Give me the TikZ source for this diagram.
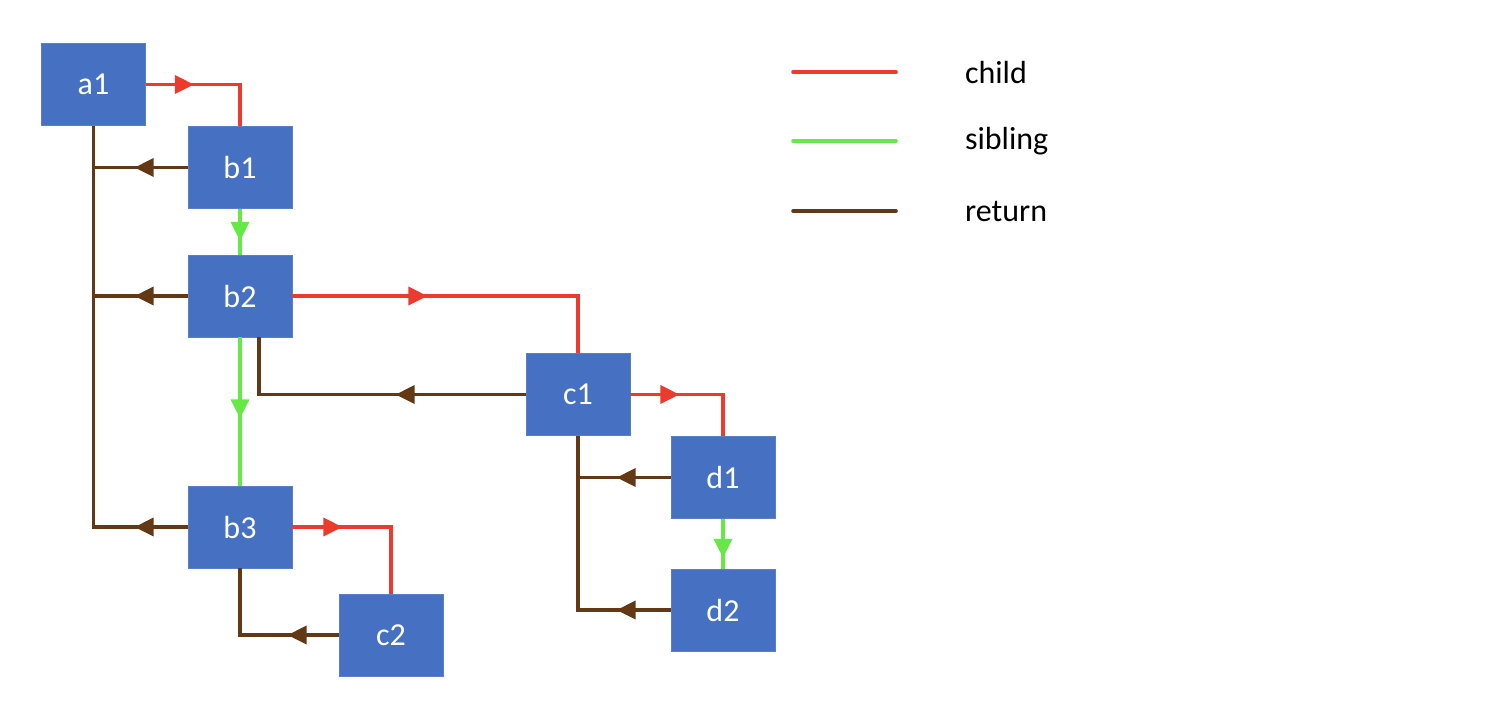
\documentclass[tikz,border=0pt]{standalone}
\usepackage{fontspec}
\setmainfont{Carlito}
\usepackage{xcolor}
\usetikzlibrary{arrows.meta}
\usetikzlibrary{decorations.markings}

\definecolor{boxblue}{RGB}{70,113,194}
\definecolor{childred}{RGB}{236,58,44}
\definecolor{sibgreen}{RGB}{102,232,70}
\definecolor{retbrown}{RGB}{99,57,21}

\tikzset{
    box/.style={fill=boxblue, draw=boxblue!90!white, line width=0.4pt,
        minimum width=52pt, minimum height=41pt, inner sep=0pt,
        text=white, font=\fontsize{16}{18}\selectfont},
    tipat/.style={postaction={decorate}, decoration={markings,
        mark=at position #1 with {\arrow{Triangle[length=9.5pt,width=9pt]}}}},
    child/.style={childred, line width=1.8pt},
    sibling/.style={sibgreen, line width=1.8pt},
    back/.style={retbrown, line width=1.8pt},
    legtext/.style={anchor=west, font=\fontsize{16}{18}\selectfont}
}

\begin{document}
\begin{tikzpicture}[x=0.5pt, y=-0.5pt]
    \useasboundingbox (0,0) rectangle (1508,720);

    % body
    \node[box] (a1) at (93.5,84.5) {a1};
    \node[box] (b1) at (240,167.5) {b1};
    \node[box] (b2) at (240,296) {b2};
    \node[box] (b3) at (240,527) {b3};
    \node[box] (c1) at (578,394.5) {c1};
    \node[box] (c2) at (391,635) {c2};
    \node[box] (d1) at (723,477.5) {d1};
    \node[box] (d2) at (723,610) {d2};

    % child links
    \draw[child, tipat=24pt] (a1.east) -| (b1.north);
    \draw[child, tipat=67.5pt] (b2.east) -| (c1.north);
    \draw[child, tipat=24.5pt] (c1.east) -| (d1.north);
    \draw[child, tipat=25pt] (b3.east) -| (c2.north);

    % sibling links
    \draw[sibling, tipat=16pt] (b1.south) -- (b2.north);
    \draw[sibling, tipat=40.5pt] (b2.south) -- (b3.north);
    \draw[sibling, tipat=19.5pt] (d1.south) -- (d2.north);

    % return links
    \draw[back, tipat=26.5pt] (b1.west) -- (b1.west -| a1.south);
    \draw[back, tipat=26.5pt] (b2.west) -- (b2.west -| a1.south);
    \draw[back, tipat=26.5pt] (b3.west) -| (a1.south);
    \draw[back, tipat=65pt] (c1.west) -| ([xshift=9.5pt]b2.south);
    \draw[back, tipat=25.5pt] (c2.west) -| (b3.south);
    \draw[back, tipat=27pt] (d1.west) -- (d1.west -| c1.south);
    \draw[back, tipat=27pt] (d2.west) -| (c1.south);

    % legend
    \coordinate (lc) at (793,72);
    \coordinate (ls) at (793,141);
    \coordinate (lr) at (793,211);
    \draw[child, line cap=round] (lc) -- ++(103,0);
    \draw[sibling, line cap=round] (ls) -- ++(103,0);
    \draw[back, line cap=round] (lr) -- ++(103,0);
    \node[legtext] (tc) at (958,72) {child};
    \node[legtext] (ts) at (958,141) {sibling};
    \node[legtext] (tr) at (958,211) {return};
\end{tikzpicture}
\end{document}
